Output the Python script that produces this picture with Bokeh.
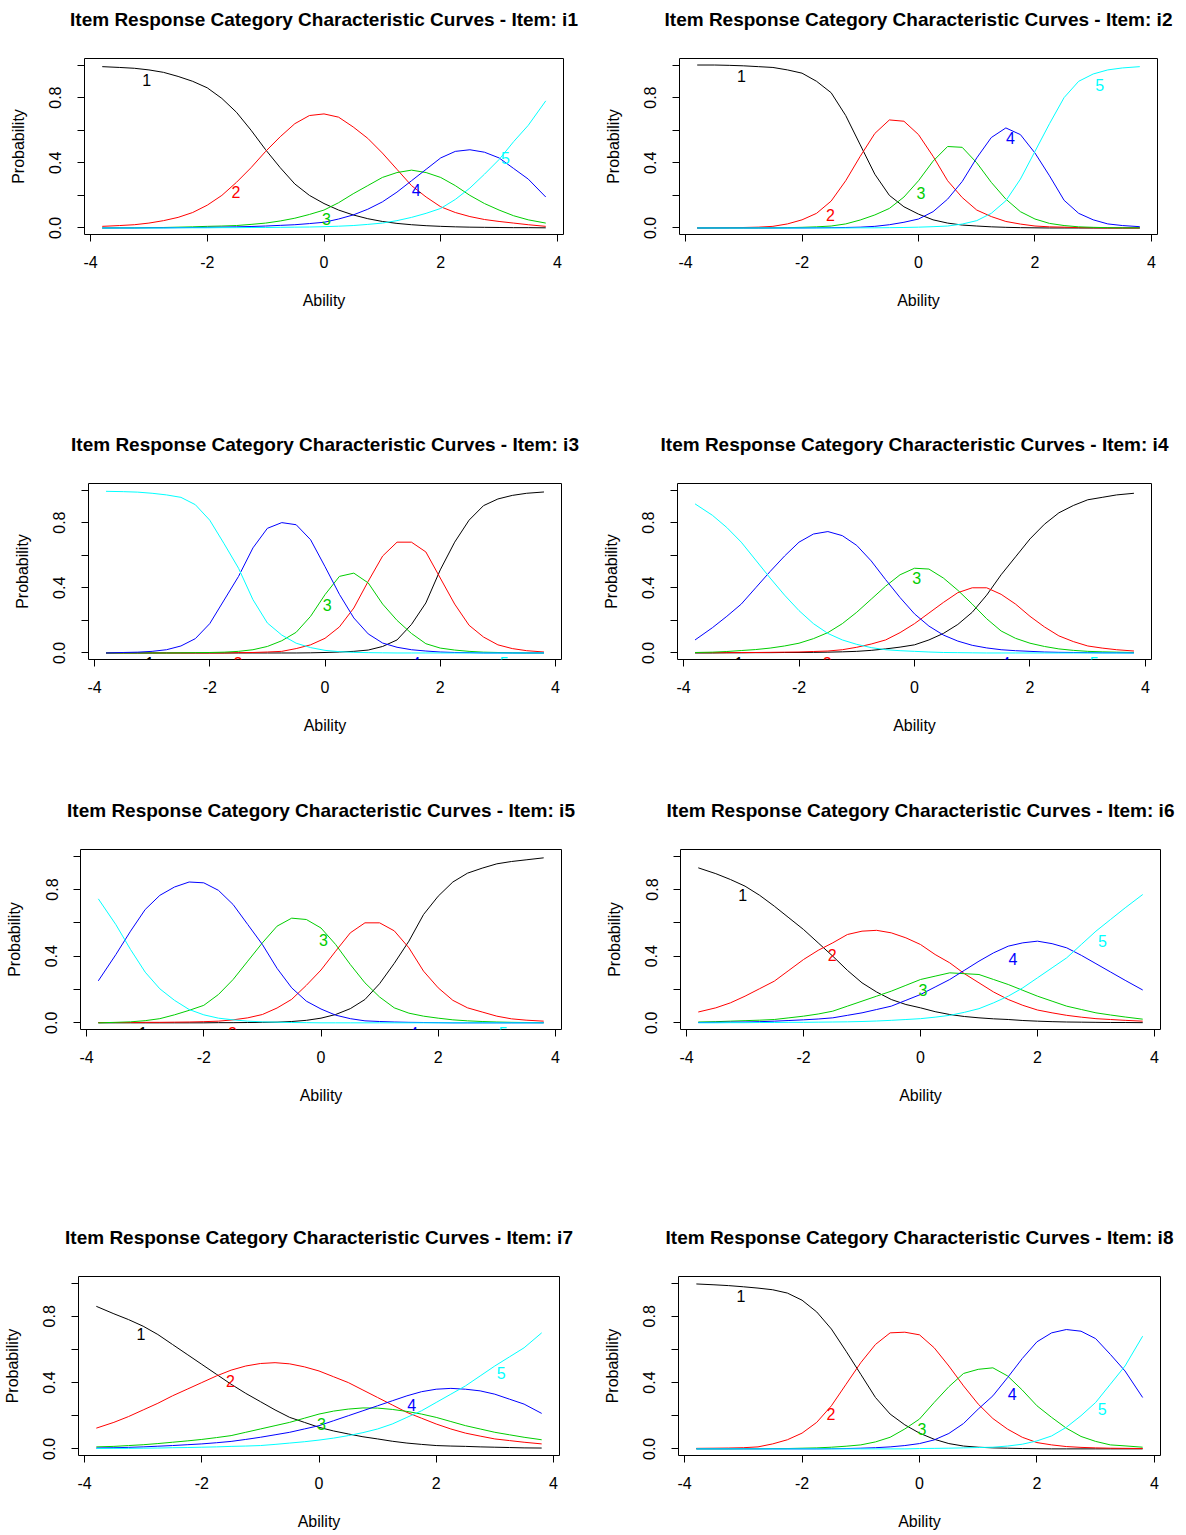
from bokeh.plotting import figure
from bokeh.layouts import column, row
from bokeh.models import Range1d, FixedTicker, Title
from bokeh.core.properties import value
from bokeh.embed import file_html
from bokeh.resources import INLINE

# ---------------- data ----------------
theta = [-3.8, -3.5, -3.25, -3.0, -2.75, -2.5, -2.25, -2.0, -1.75, -1.5, -1.25, -1.0, -0.75, -0.5, -0.25,
         0.0, 0.25, 0.5, 0.75, 1.0, 1.25, 1.5, 1.75, 2.0, 2.25, 2.5, 2.75, 3.0, 3.25, 3.5, 3.8]
categories = ["1", "2", "3", "4", "5"]
items = ["i1", "i2", "i3", "i4", "i5", "i6", "i7", "i8"]
x_ticks = [-4, -2, 0, 2, 4]
y_ticks = [0.0, 0.2, 0.4, 0.6, 0.8, 1.0]
y_tick_labels = ["0.0", "", "0.4", "", "0.8", ""]

i1_probs = [
    [0.99, 0.985, 0.98, 0.97, 0.955, 0.93, 0.90, 0.86, 0.795, 0.71, 0.60, 0.48, 0.37, 0.27, 0.20, 0.15,
     0.11, 0.08, 0.057, 0.04, 0.028, 0.02, 0.014, 0.01, 0.007, 0.005, 0.004, 0.003, 0.002, 0.002, 0.001],
    [0.01, 0.015, 0.02, 0.03, 0.045, 0.065, 0.095, 0.14, 0.20, 0.28, 0.37, 0.47, 0.56, 0.64, 0.69, 0.70,
     0.68, 0.62, 0.55, 0.46, 0.36, 0.26, 0.19, 0.13, 0.095, 0.07, 0.052, 0.04, 0.03, 0.02, 0.01],
    [0.0, 0.001, 0.001, 0.002, 0.003, 0.005, 0.007, 0.01, 0.012, 0.015, 0.022, 0.03, 0.043, 0.06, 0.083, 0.11,
     0.155, 0.21, 0.26, 0.31, 0.34, 0.355, 0.34, 0.31, 0.26, 0.20, 0.15, 0.11, 0.075, 0.05, 0.03],
    [0.0, 0.0, 0.0, 0.001, 0.001, 0.002, 0.003, 0.004, 0.005, 0.007, 0.009, 0.012, 0.016, 0.02, 0.027, 0.035,
     0.055, 0.08, 0.115, 0.16, 0.22, 0.29, 0.36, 0.43, 0.47, 0.48, 0.465, 0.43, 0.365, 0.30, 0.19],
    [0.0, 0.0, 0.0, 0.0, 0.0, 0.001, 0.001, 0.001, 0.002, 0.002, 0.003, 0.003, 0.004, 0.005, 0.006, 0.008,
     0.011, 0.015, 0.022, 0.03, 0.045, 0.065, 0.09, 0.12, 0.175, 0.245, 0.33, 0.42, 0.53, 0.63, 0.78],
]
i2_probs = [
    [1.0, 1.0, 0.998, 0.995, 0.99, 0.985, 0.97, 0.95, 0.90, 0.83, 0.69, 0.51, 0.33, 0.20, 0.13, 0.085,
     0.05, 0.03, 0.018, 0.012, 0.007, 0.004, 0.002, 0.001, 0.0, 0.0, 0.0, 0.0, 0.0, 0.0, 0.0],
    [0.0, 0.001, 0.002, 0.003, 0.005, 0.01, 0.025, 0.05, 0.09, 0.165, 0.29, 0.44, 0.58, 0.663, 0.655, 0.573,
     0.44, 0.29, 0.187, 0.11, 0.07, 0.04, 0.024, 0.012, 0.007, 0.005, 0.002, 0.001, 0.0, 0.0, 0.0],
    [0.0, 0.0, 0.0, 0.0, 0.0, 0.001, 0.002, 0.004, 0.007, 0.012, 0.025, 0.049, 0.08, 0.12, 0.19, 0.29,
     0.41, 0.50, 0.495, 0.40, 0.28, 0.177, 0.10, 0.055, 0.028, 0.015, 0.007, 0.004, 0.002, 0.001, 0.001],
    [0.0, 0.0, 0.0, 0.0, 0.0, 0.0, 0.0, 0.0, 0.001, 0.002, 0.003, 0.005, 0.01, 0.02, 0.035, 0.055,
     0.10, 0.177, 0.285, 0.43, 0.555, 0.614, 0.573, 0.46, 0.32, 0.17, 0.09, 0.05, 0.025, 0.015, 0.008],
    [0.0, 0.0, 0.0, 0.0, 0.0, 0.0, 0.0, 0.0, 0.0, 0.0, 0.0, 0.001, 0.001, 0.002, 0.003, 0.005,
     0.008, 0.012, 0.024, 0.045, 0.09, 0.167, 0.30, 0.47, 0.64, 0.80, 0.90, 0.945, 0.97, 0.982, 0.99],
]
i3_probs = [
    [0.0, 0.0, 0.0, 0.0, 0.0, 0.0, 0.0, 0.0, 0.0, 0.0, 0.0, 0.0, 0.0, 0.0, 0.001, 0.003,
     0.006, 0.01, 0.018, 0.04, 0.08, 0.175, 0.307, 0.51, 0.68, 0.815, 0.904, 0.945, 0.967, 0.98, 0.988],
    [0.0, 0.0, 0.0, 0.0, 0.0, 0.0, 0.0, 0.0, 0.0, 0.002, 0.003, 0.006, 0.01, 0.027, 0.05, 0.09,
     0.16, 0.276, 0.44, 0.595, 0.68, 0.68, 0.62, 0.46, 0.30, 0.17, 0.098, 0.05, 0.027, 0.014, 0.006],
    [0.0, 0.0, 0.0, 0.0, 0.0, 0.001, 0.002, 0.003, 0.005, 0.01, 0.02, 0.04, 0.075, 0.127, 0.225, 0.358,
     0.47, 0.49, 0.43, 0.30, 0.20, 0.12, 0.057, 0.03, 0.018, 0.01, 0.005, 0.003, 0.001, 0.0, 0.0],
    [0.0, 0.003, 0.005, 0.01, 0.02, 0.043, 0.088, 0.18, 0.325, 0.47, 0.645, 0.765, 0.80, 0.787, 0.695, 0.53,
     0.36, 0.215, 0.117, 0.061, 0.035, 0.02, 0.012, 0.006, 0.003, 0.002, 0.0, 0.0, 0.0, 0.0, 0.0],
    [0.992, 0.99, 0.987, 0.98, 0.97, 0.955, 0.91, 0.815, 0.67, 0.52, 0.327, 0.184, 0.11, 0.06, 0.033, 0.016,
     0.008, 0.004, 0.002, 0.001, 0.0, 0.0, 0.0, 0.0, 0.0, 0.0, 0.0, 0.0, 0.0, 0.0, 0.0],
]
i4_probs = [
    [0.0, 0.0, 0.001, 0.001, 0.002, 0.002, 0.003, 0.003, 0.004, 0.005, 0.007, 0.01, 0.016, 0.025, 0.036, 0.05,
     0.08, 0.12, 0.175, 0.25, 0.355, 0.48, 0.59, 0.70, 0.79, 0.86, 0.905, 0.94, 0.955, 0.97, 0.98],
    [0.002, 0.002, 0.002, 0.003, 0.003, 0.004, 0.005, 0.006, 0.009, 0.012, 0.02, 0.035, 0.055, 0.08, 0.125, 0.18,
     0.245, 0.31, 0.37, 0.40, 0.40, 0.36, 0.30, 0.225, 0.16, 0.105, 0.07, 0.043, 0.03, 0.02, 0.012],
    [0.003, 0.005, 0.009, 0.015, 0.021, 0.03, 0.043, 0.06, 0.088, 0.125, 0.18, 0.25, 0.33, 0.41, 0.48, 0.52,
     0.515, 0.46, 0.385, 0.30, 0.21, 0.135, 0.09, 0.06, 0.04, 0.025, 0.016, 0.01, 0.007, 0.005, 0.003],
    [0.08, 0.155, 0.225, 0.30, 0.40, 0.50, 0.595, 0.68, 0.73, 0.745, 0.72, 0.66, 0.565, 0.45, 0.34, 0.24,
     0.165, 0.11, 0.073, 0.047, 0.031, 0.02, 0.014, 0.01, 0.006, 0.004, 0.003, 0.002, 0.001, 0.001, 0.0],
    [0.915, 0.845, 0.77, 0.68, 0.57, 0.46, 0.355, 0.26, 0.18, 0.12, 0.08, 0.053, 0.033, 0.02, 0.014, 0.01,
     0.006, 0.003, 0.002, 0.001, 0.0, 0.0, 0.0, 0.0, 0.0, 0.0, 0.0, 0.0, 0.0, 0.0, 0.0],
]
i5_probs = [
    [0.0, 0.0, 0.0, 0.0, 0.0, 0.0, 0.0, 0.0, 0.001, 0.001, 0.002, 0.003, 0.004, 0.008, 0.015, 0.028,
     0.05, 0.085, 0.14, 0.235, 0.357, 0.49, 0.65, 0.76, 0.845, 0.898, 0.928, 0.954, 0.968, 0.978, 0.99],
    [0.002, 0.002, 0.002, 0.003, 0.003, 0.004, 0.005, 0.007, 0.01, 0.018, 0.03, 0.05, 0.089, 0.141, 0.225, 0.317,
     0.43, 0.54, 0.60, 0.60, 0.552, 0.45, 0.31, 0.21, 0.135, 0.09, 0.065, 0.04, 0.024, 0.016, 0.01],
    [0.0, 0.003, 0.006, 0.013, 0.025, 0.048, 0.075, 0.105, 0.17, 0.26, 0.37, 0.48, 0.58, 0.628, 0.62, 0.569,
     0.47, 0.35, 0.24, 0.155, 0.09, 0.058, 0.04, 0.028, 0.018, 0.012, 0.008, 0.005, 0.003, 0.002, 0.001],
    [0.252, 0.41, 0.55, 0.68, 0.765, 0.815, 0.845, 0.84, 0.795, 0.71, 0.59, 0.47, 0.327, 0.21, 0.13, 0.083,
     0.046, 0.025, 0.012, 0.008, 0.005, 0.003, 0.002, 0.001, 0.0, 0.0, 0.0, 0.0, 0.0, 0.0, 0.0],
    [0.744, 0.589, 0.44, 0.304, 0.204, 0.135, 0.08, 0.048, 0.028, 0.018, 0.01, 0.006, 0.004, 0.002, 0.001, 0.0,
     0.0, 0.0, 0.0, 0.0, 0.0, 0.0, 0.0, 0.0, 0.0, 0.0, 0.0, 0.0, 0.0, 0.0, 0.0],
]
i6_probs = [
    [0.93, 0.895, 0.86, 0.82, 0.765, 0.70, 0.63, 0.56, 0.48, 0.40, 0.315, 0.24, 0.185, 0.14, 0.11, 0.09,
     0.067, 0.05, 0.038, 0.03, 0.024, 0.02, 0.014, 0.01, 0.007, 0.005, 0.004, 0.003, 0.002, 0.002, 0.001],
    [0.065, 0.09, 0.12, 0.16, 0.205, 0.25, 0.315, 0.38, 0.435, 0.48, 0.53, 0.55, 0.555, 0.54, 0.51, 0.47,
     0.41, 0.36, 0.295, 0.24, 0.185, 0.14, 0.105, 0.077, 0.06, 0.045, 0.034, 0.025, 0.02, 0.015, 0.01],
    [0.005, 0.007, 0.01, 0.013, 0.016, 0.02, 0.03, 0.04, 0.053, 0.07, 0.10, 0.13, 0.16, 0.19, 0.225, 0.26,
     0.28, 0.30, 0.295, 0.29, 0.26, 0.23, 0.195, 0.16, 0.13, 0.10, 0.08, 0.06, 0.047, 0.035, 0.022],
    [0.002, 0.003, 0.004, 0.005, 0.007, 0.01, 0.014, 0.018, 0.023, 0.03, 0.045, 0.06, 0.08, 0.10, 0.135, 0.17,
     0.215, 0.26, 0.315, 0.37, 0.42, 0.46, 0.48, 0.49, 0.475, 0.45, 0.405, 0.355, 0.305, 0.255, 0.197],
    [0.0, 0.0, 0.001, 0.001, 0.002, 0.002, 0.003, 0.003, 0.004, 0.005, 0.006, 0.008, 0.011, 0.015, 0.02, 0.025,
     0.034, 0.045, 0.063, 0.085, 0.12, 0.16, 0.21, 0.27, 0.33, 0.39, 0.47, 0.55, 0.62, 0.69, 0.77],
]
i7_probs = [
    [0.86, 0.815, 0.78, 0.74, 0.69, 0.63, 0.57, 0.51, 0.45, 0.39, 0.335, 0.285, 0.235, 0.19, 0.16, 0.13,
     0.108, 0.09, 0.073, 0.06, 0.046, 0.035, 0.027, 0.02, 0.017, 0.015, 0.012, 0.01, 0.008, 0.006, 0.005],
    [0.125, 0.16, 0.195, 0.235, 0.275, 0.32, 0.36, 0.40, 0.44, 0.475, 0.50, 0.515, 0.52, 0.513, 0.495, 0.47,
     0.435, 0.40, 0.355, 0.31, 0.265, 0.22, 0.185, 0.15, 0.12, 0.095, 0.077, 0.06, 0.05, 0.04, 0.03],
    [0.012, 0.015, 0.02, 0.025, 0.032, 0.04, 0.048, 0.057, 0.068, 0.08, 0.10, 0.12, 0.14, 0.16, 0.185, 0.21,
     0.228, 0.24, 0.247, 0.246, 0.238, 0.226, 0.21, 0.19, 0.165, 0.14, 0.12, 0.10, 0.085, 0.07, 0.055],
    [0.005, 0.007, 0.009, 0.012, 0.016, 0.02, 0.025, 0.03, 0.037, 0.045, 0.057, 0.07, 0.085, 0.10, 0.12, 0.14,
     0.17, 0.20, 0.23, 0.26, 0.29, 0.32, 0.345, 0.36, 0.365, 0.36, 0.35, 0.33, 0.30, 0.27, 0.214],
    [0.002, 0.003, 0.003, 0.004, 0.005, 0.007, 0.008, 0.01, 0.012, 0.015, 0.017, 0.02, 0.027, 0.035, 0.043, 0.053,
     0.065, 0.08, 0.098, 0.12, 0.15, 0.19, 0.23, 0.28, 0.33, 0.38, 0.44, 0.50, 0.555, 0.61, 0.70],
]
i8_probs = [
    [0.995, 0.99, 0.985, 0.978, 0.97, 0.96, 0.94, 0.897, 0.826, 0.723, 0.589, 0.45, 0.31, 0.21, 0.145, 0.095,
     0.058, 0.032, 0.017, 0.01, 0.006, 0.004, 0.002, 0.001, 0.0, 0.0, 0.0, 0.0, 0.0, 0.0, 0.0],
    [0.003, 0.004, 0.005, 0.007, 0.012, 0.03, 0.055, 0.095, 0.16, 0.26, 0.39, 0.52, 0.63, 0.70, 0.704, 0.688,
     0.61, 0.50, 0.38, 0.27, 0.183, 0.119, 0.07, 0.038, 0.024, 0.014, 0.009, 0.006, 0.004, 0.003, 0.002],
    [0.0, 0.0, 0.0, 0.001, 0.001, 0.002, 0.002, 0.004, 0.006, 0.01, 0.016, 0.024, 0.042, 0.07, 0.12, 0.18,
     0.28, 0.375, 0.455, 0.48, 0.489, 0.44, 0.355, 0.26, 0.19, 0.125, 0.075, 0.045, 0.024, 0.018, 0.01],
    [0.0, 0.0, 0.0, 0.0, 0.0, 0.0, 0.0, 0.0, 0.0, 0.001, 0.002, 0.004, 0.007, 0.012, 0.02, 0.032,
     0.054, 0.093, 0.153, 0.24, 0.32, 0.43, 0.545, 0.646, 0.70, 0.72, 0.71, 0.665, 0.57, 0.47, 0.31],
    [0.0, 0.0, 0.0, 0.0, 0.0, 0.0, 0.0, 0.0, 0.0, 0.0, 0.0, 0.0, 0.0, 0.0, 0.0, 0.002,
     0.003, 0.004, 0.006, 0.008, 0.01, 0.017, 0.028, 0.048, 0.078, 0.13, 0.20, 0.28, 0.39, 0.50, 0.68],
]

# curve-label anchors (x common, y per item)
label_x = [-3.04, -1.51, 0.04, 1.58, 3.11]
i1_label_y = [0.91, 0.22, 0.057, 0.235, 0.43]
i2_label_y = [0.93, 0.08, 0.217, 0.55, 0.88]
i3_label_y = [-0.06, -0.06, 0.294, -0.06, -0.06]
i4_label_y = [-0.06, -0.06, 0.46, -0.06, -0.06]
i5_label_y = [-0.06, -0.06, 0.50, -0.06, -0.06]
i6_label_y = [0.768, 0.41, 0.20, 0.386, 0.49]
i7_label_y = [0.695, 0.41, 0.15, 0.265, 0.46]
i8_label_y = [0.92, 0.21, 0.12, 0.33, 0.24]

all_probs = [i1_probs, i2_probs, i3_probs, i4_probs, i5_probs, i6_probs, i7_probs, i8_probs]
all_label_y = [i1_label_y, i2_label_y, i3_label_y, i4_label_y, i5_label_y, i6_label_y, i7_label_y, i8_label_y]

# ---------------- style / layout ----------------
COLORS = ["black", "#FF0000", "#00CD00", "#0000FF", "#00FFFF"]
FONT = "Liberation Sans"
CELL_W = 593
ROW_H = [425, 365, 425, 320]
# (left border, frame width, top border, frame height)
GEOM = [
    (84, 479, 55, 179), (86, 478, 58, 178),
    (88, 473, 58, 176), (84, 474, 56, 178),
    (80, 481, 59, 180), (87, 480, 59, 180),
    (75, 484, 60, 180), (85, 482, 61, 181),
]


def make_panel(idx):
    name = items[idx]
    probs = all_probs[idx]
    lab_y = all_label_y[idx]
    L, FW, T, FH = GEOM[idx]
    H = ROW_H[idx // 2]
    p = figure(width=CELL_W, height=H,
               x_range=Range1d(-4.104, 4.104), y_range=Range1d(-0.04, 1.04),
               output_backend="svg", toolbar_location=None,
               min_border_left=L, min_border_right=CELL_W - L - FW,
               min_border_top=T, min_border_bottom=H - T - FH,
               title="Item Response Category Characteristic Curves - Item: " + name)
    p.title.text_font = FONT
    p.title.text_font_size = "19px"
    p.title.text_font_style = "bold"
    p.title.text_color = "black"
    p.title.align = "center"
    p.title.standoff = 0
    # blank spacer between title and frame
    p.add_layout(Title(text=" ", text_font_size="10px", standoff=16), "above")

    p.outline_line_color = "black"
    p.outline_line_width = 1
    p.outline_line_alpha = 1.0
    p.xgrid.visible = False
    p.ygrid.visible = False
    p.background_fill_color = "white"
    p.border_fill_color = "white"

    for ax in (p.xaxis[0], p.yaxis[0]):
        ax.axis_line_color = None
        ax.major_tick_line_color = "black"
        ax.major_tick_in = 0
        ax.major_tick_out = 7
        ax.minor_tick_line_color = None
        ax.major_label_text_font = FONT
        ax.major_label_text_font_size = "16px"
        ax.major_label_text_color = "black"
        ax.axis_label_text_font = FONT
        ax.axis_label_text_font_size = "16px"
        ax.axis_label_text_font_style = "normal"
        ax.axis_label_text_color = "black"

    p.xaxis.ticker = FixedTicker(ticks=x_ticks)
    p.xaxis.major_label_overrides = {t: str(t) for t in x_ticks}
    p.xaxis.axis_label = "Ability"
    p.xaxis.major_label_standoff = 14
    p.xaxis.axis_label_standoff = 21

    p.yaxis.ticker = FixedTicker(ticks=y_ticks)
    p.yaxis.major_label_overrides = dict(zip(y_ticks, y_tick_labels))
    p.yaxis.major_label_orientation = "vertical"
    p.yaxis.axis_label = "Probability"
    p.yaxis.major_label_standoff = 16
    p.yaxis.axis_label_standoff = 20

    for k, cat in enumerate(categories):
        p.line(theta, probs[k], line_color=COLORS[k], line_width=1)
    p.text(x=label_x, y=lab_y, text=categories,
           text_color=COLORS, text_font=value(FONT), text_font_size="16px",
           text_align="center", text_baseline="middle")
    return p


panels = [make_panel(i) for i in range(8)]
layout = column(
    row(panels[0], panels[1]),
    row(panels[2], panels[3]),
    row(panels[4], panels[5]),
    row(panels[6], panels[7]),
)

open("out.html", "w").write(file_html(layout, INLINE))
